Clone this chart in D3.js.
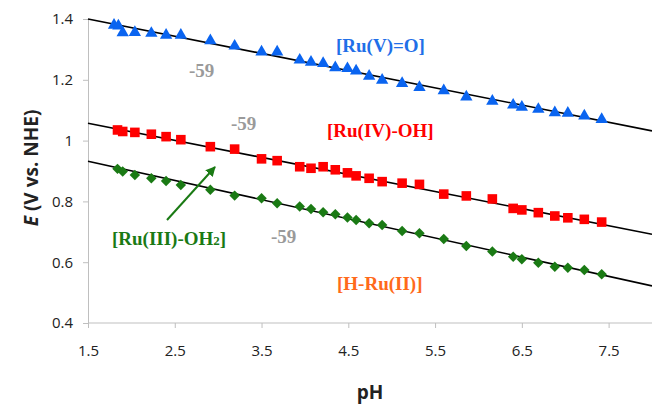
<!DOCTYPE html>
<html>
<head>
<meta charset="utf-8">
<script src="https://cdn.jsdelivr.net/npm/d3@7"></script>
<style>
  body { margin: 0; background: #fff; }
  svg { display: block; }
</style>
</head>
<body>
<svg id="chart" width="652" height="406"></svg>
<script>
// pH of each measurement
const phBlue = [1.80, 1.85, 1.90, 2.04, 2.23, 2.40, 2.57, 2.91, 3.19, 3.50, 3.68, 3.94, 4.07, 4.21, 4.35, 4.49, 4.59,
  4.74, 4.89, 5.12, 5.32, 5.60, 5.86, 6.16, 6.40, 6.50, 6.69, 6.88, 7.03, 7.22, 7.42];
const phRG = [1.84, 1.90, 2.04, 2.23, 2.40, 2.57, 2.91, 3.19, 3.50, 3.68, 3.94, 4.07, 4.21, 4.35, 4.49, 4.59,
  4.74, 4.89, 5.12, 5.32, 5.60, 5.86, 6.16, 6.40, 6.50, 6.69, 6.88, 7.03, 7.22, 7.42];

// E (V vs NHE)
const eRuV = [1.380, 1.377, 1.355, 1.356, 1.353, 1.347, 1.347, 1.329, 1.311, 1.292, 1.292, 1.265, 1.258, 1.254, 1.240,
  1.237, 1.229, 1.212, 1.199, 1.188, 1.175, 1.164, 1.144, 1.130, 1.117, 1.110, 1.103, 1.092, 1.090, 1.081, 1.070];
const eRuIV = [1.035, 1.030, 1.027, 1.021, 1.013, 1.003, 0.980, 0.972, 0.940, 0.934, 0.914, 0.909, 0.914, 0.904,
  0.894, 0.884, 0.876, 0.865, 0.860, 0.856, 0.824, 0.818, 0.808, 0.777, 0.772, 0.763, 0.752, 0.746, 0.741, 0.732];
const eRuIII = [0.907, 0.898, 0.887, 0.876, 0.867, 0.854, 0.838, 0.819, 0.810, 0.794, 0.783, 0.775, 0.764, 0.758,
  0.747, 0.739, 0.728, 0.722, 0.703, 0.695, 0.676, 0.653, 0.635, 0.618, 0.610, 0.598, 0.585, 0.582, 0.574, 0.560];

// linear fits, value at pH 1.5 and 8.0
const fitPH = [1.5, 8.0];
const fitRuV = [1.400, 1.032];
const fitRuIV = [1.057, 0.692];
const fitRuIII = [0.932, 0.522];

const xTicks = [1.5, 2.5, 3.5, 4.5, 5.5, 6.5, 7.5];
const yTicks = [0.4, 0.6, 0.8, 1.0, 1.2, 1.4];

const svg = d3.select("#chart");
const x = d3.scaleLinear().domain([1.5, 8]).range([88, 652]);
const y = d3.scaleLinear().domain([0.4, 1.4]).range([323, 19]);

const fmt = d => (d === 1 ? "1" : d3.format(".1f")(d));

// axes
const xAxis = svg.append("g").attr("transform", "translate(0,323)")
  .call(d3.axisBottom(x).tickValues(xTicks).tickFormat(fmt).tickSize(5).tickPadding(17));
const yAxis = svg.append("g").attr("transform", "translate(88,0)")
  .call(d3.axisLeft(y).tickValues(yTicks).tickFormat(fmt).tickSize(5).tickPadding(10));

[xAxis, yAxis].forEach(g => {
  g.select(".domain").attr("stroke", "#bfbfbf");
  g.selectAll(".tick line").attr("stroke", "#bfbfbf");
  g.selectAll(".tick text").attr("fill", "#222")
    .style("font-family", "'Open Sans', sans-serif").style("font-size", "15px");
});
xAxis.select(".domain").attr("d", "M88,0H652");

// fit lines
const line = d3.line().x(d => x(d[0])).y(d => y(d[1]));
[fitRuV, fitRuIV, fitRuIII].forEach(f => {
  svg.append("path").datum(fitPH.map((p, i) => [p, f[i]]))
    .attr("d", line).attr("fill", "none").attr("stroke", "#000").attr("stroke-width", 1.6);
});

// markers
function drawSeries(ph, vals, type, size, color, rot) {
  svg.append("g").selectAll("path").data(ph.map((p, i) => [p, vals[i]])).enter()
    .append("path")
    .attr("d", d3.symbol().type(type).size(size))
    .attr("transform", d => `translate(${x(d[0])},${y(d[1])}) rotate(${rot})`)
    .attr("fill", color);
}
drawSeries(phBlue, eRuV, d3.symbolTriangle, 66, "#0a64f0", 0);
drawSeries(phRG, eRuIV, d3.symbolSquare, 92, "#ff0000", 0);
drawSeries(phRG, eRuIII, d3.symbolSquare, 55, "#1a7a14", 45);

// annotations
const serif = "'Liberation Serif', 'Times New Roman', serif";
function label(txt, px, py, color) {
  return svg.append("text").attr("x", px).attr("y", py).attr("fill", color)
    .style("font-family", serif).style("font-weight", "bold").style("font-size", "19px").text(txt);
}
label("[Ru(V)=O]", 336, 52, "#1f6fe8");
label("[Ru(IV)-OH]", 327, 137, "#ff0000");
label("[H-Ru(II)]", 337, 290, "#ff6a1a");
label("-59", 189, 77, "#9a9a9a");
label("-59", 231, 130, "#9a9a9a");
label("-59", 271, 243, "#9a9a9a");

const t3 = label("", 112, 245, "#1a7a14");
t3.append("tspan").text("[Ru(III)-OH");
t3.append("tspan").style("font-size", "13px").text("2");
t3.append("tspan").text("]");

// arrow
svg.append("defs").append("marker").attr("id", "ah")
  .attr("viewBox", "0 0 10 10").attr("refX", 9).attr("refY", 5)
  .attr("markerWidth", 5).attr("markerHeight", 5).attr("orient", "auto")
  .append("path").attr("d", "M0,0L10,5L0,10Z").attr("fill", "#1a7a14");
svg.append("line").attr("x1", 167).attr("y1", 220).attr("x2", 215).attr("y2", 167)
  .attr("stroke", "#1a7a14").attr("stroke-width", 2).attr("marker-end", "url(#ah)");

// axis titles
svg.append("text").attr("x", 370).attr("y", 399).attr("text-anchor", "middle")
  .style("font-family", "'Open Sans', sans-serif").style("font-weight", "bold").style("font-size", "19px")
  .attr("fill", "#222").text("pH");

const yt = svg.append("text").attr("transform", "translate(38,168) rotate(-90)").attr("text-anchor", "middle")
  .style("font-family", "'Open Sans', sans-serif").style("font-weight", "bold").style("font-size", "19px")
  .attr("fill", "#222");
yt.append("tspan").style("font-style", "italic").text("E");
yt.append("tspan").text(" (V vs. NHE)");
</script>
</body>
</html>
